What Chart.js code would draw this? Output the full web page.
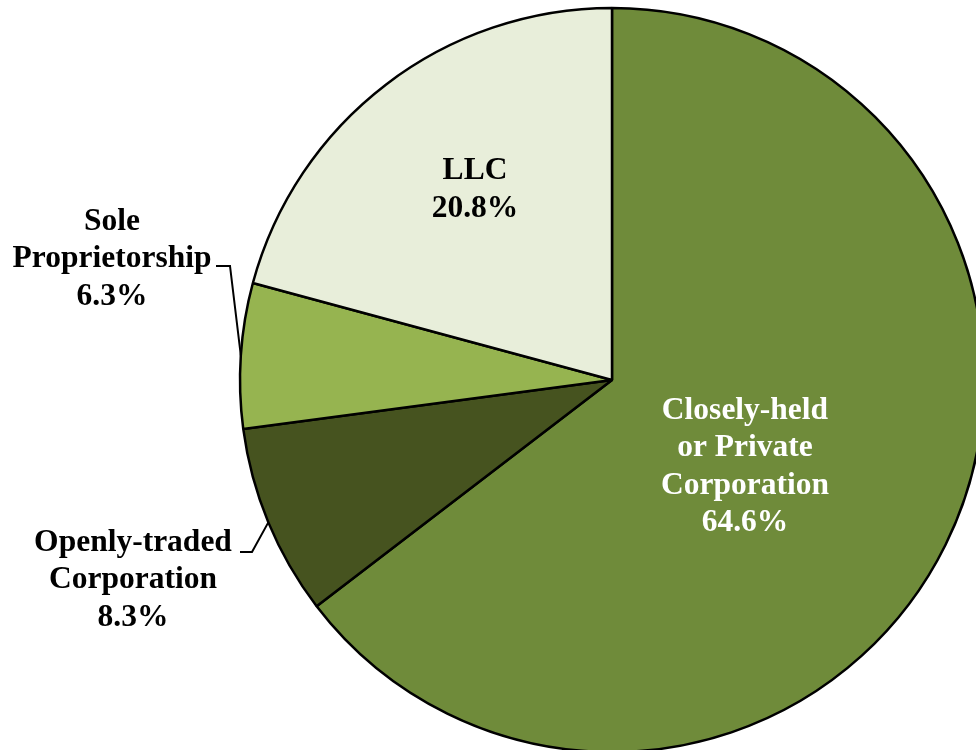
<!DOCTYPE html>
<html>
<head>
<meta charset="utf-8">
<script src="https://cdn.jsdelivr.net/npm/chart.js@4.4.0/dist/chart.umd.min.js"></script>
<style>
  html, body { margin: 0; padding: 0; background: #fff; }
  #wrap { width: 976px; height: 750px; position: relative; overflow: hidden; }
</style>
</head>
<body>
<div id="wrap"><canvas id="pie-chart" width="976" height="750"></canvas></div>
<script>
// slices, clockwise from 12 o'clock
var categories = ['Closely-held or Private Corporation', 'Openly-traded Corporation', 'Sole Proprietorship', 'LLC'];
var shares = [64.6, 8.3, 6.3, 20.8];
var labelLines = [
  ['Closely-held', 'or Private', 'Corporation'],
  ['Openly-traded', 'Corporation'],
  ['Sole', 'Proprietorship'],
  ['LLC']
];
var sliceColors = ['#6F8B3A', '#46531F', '#96B450', '#E8EEDA'];

// label placement relative to pie centre (x,y = centre of text block)
var labelSpots = [
  { dx: 133, dy: 87, color: '#fff' },
  { dx: -479, dy: 200, color: '#000', leader: { bx: -360, by: 172, ex: -372 } },
  { dx: -500, dy: -121, color: '#000', leader: { bx: -382, by: -114, ex: -396 } },
  { dx: -137, dy: -190, color: '#000' }
];

var FONT_SIZE = 31.5;
var LINE_H = 37.5;

var sliceLabels = {
  id: 'sliceLabels',
  afterDatasetsDraw: function(chart) {
    var ctx = chart.ctx;
    var arcs = chart.getDatasetMeta(0).data;
    ctx.save();
    ctx.font = 'bold ' + FONT_SIZE + 'px "Liberation Serif", "Times New Roman", serif';
    ctx.textAlign = 'center';
    ctx.textBaseline = 'middle';
    arcs.forEach(function(arc, i) {
      var spot = labelSpots[i];
      var cx = arc.x, cy = arc.y;
      var lines = labelLines[i].concat([shares[i].toFixed(1) + '%']);
      var x = cx + spot.dx;
      var y0 = cy + spot.dy - (lines.length - 1) * LINE_H / 2;
      ctx.fillStyle = spot.color;
      lines.forEach(function(t, k) {
        ctx.fillText(t, x, y0 + k * LINE_H);
      });
      if (spot.leader) {
        var mid = (arc.startAngle + arc.endAngle) / 2;
        var px = cx + Math.cos(mid) * arc.outerRadius;
        var py = cy + Math.sin(mid) * arc.outerRadius;
        ctx.strokeStyle = '#000';
        ctx.lineWidth = 2;
        ctx.beginPath();
        ctx.moveTo(px, py);
        ctx.lineTo(cx + spot.leader.bx, cy + spot.leader.by);
        ctx.lineTo(cx + spot.leader.ex, cy + spot.leader.by);
        ctx.stroke();
      }
    });
    ctx.restore();
  }
};

var pieChart = new Chart(document.getElementById('pie-chart').getContext('2d'), {
  type: 'pie',
  data: {
    labels: categories,
    datasets: [{
      data: shares,
      backgroundColor: sliceColors,
      borderColor: '#000',
      borderWidth: 2.5,
      clip: false
    }]
  },
  options: {
    responsive: false,
    animation: false,
    radius: 372,
    layout: { padding: { left: 248, right: 0, top: 10, bottom: 0 } },
    plugins: {
      legend: { display: false },
      tooltip: { enabled: false }
    }
  },
  plugins: [sliceLabels]
});
</script>
</body>
</html>
